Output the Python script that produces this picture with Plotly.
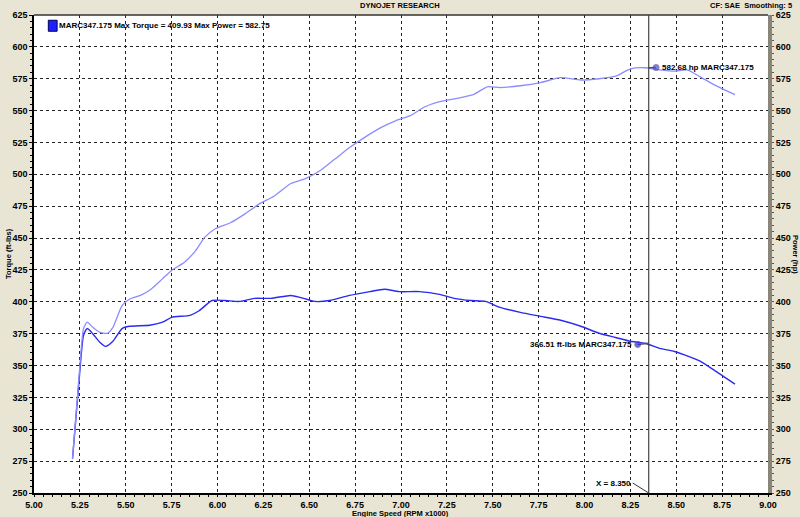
import plotly.graph_objects as go

# ---------------- data ----------------
torque_rpm = [5.21, 5.25, 5.27, 5.29, 5.32, 5.36, 5.39, 5.43, 5.48, 5.52, 5.63, 5.70, 5.75,
              5.85, 5.90, 5.97, 6.04, 6.12, 6.20, 6.29, 6.40, 6.45, 6.53, 6.61, 6.72, 6.83,
              6.91, 6.99, 7.10, 7.21, 7.29, 7.38, 7.46, 7.54, 7.65, 7.76, 7.87, 7.98, 8.08,
              8.17, 8.25, 8.33, 8.41, 8.49, 8.57, 8.63, 8.71, 8.82]
torque = [277, 346, 373.7, 379, 375, 368, 365, 369, 379, 380.8, 381.6, 384, 387.8,
          389.4, 393, 401, 401, 400.3, 402.7, 402.7, 405, 403.5, 400.3, 401, 405, 408,
          409.9, 408, 408, 405.8, 402.7, 401, 400.3, 395.6, 391.7, 388.6, 385.5, 380.8, 375.3,
          372, 369, 367.5, 363.5, 361, 357, 353.4, 346, 335.4]

power_rpm = [5.21, 5.25, 5.27, 5.29, 5.32, 5.36, 5.40, 5.43, 5.48, 5.52, 5.58, 5.63, 5.70,
             5.75, 5.82, 5.88, 5.93, 5.99, 6.07, 6.15, 6.23, 6.31, 6.40, 6.48, 6.56, 6.64,
             6.72, 6.80, 6.89, 6.97, 7.05, 7.13, 7.21, 7.32, 7.40, 7.47, 7.54, 7.65, 7.76,
             7.87, 7.98, 8.08, 8.17, 8.25, 8.33, 8.41, 8.49, 8.56, 8.63, 8.71, 8.82]
power = [277, 350, 379, 384, 380, 376, 375.3, 380, 397, 402, 405, 409, 418,
         424.6, 431, 440, 450.5, 457.5, 462, 469, 477, 483, 492.8, 496.7, 503, 512,
         521, 528.8, 536.6, 542, 546, 553, 557, 560, 563, 568.7, 568, 569.5, 572,
         575.8, 574, 575, 577, 582.8, 583.6, 582, 581, 582, 576.5, 570, 562.5]

cursor_rpm = 8.35
torque_marker_rpm = [8.35, 8.29]
torque_marker_val = [367.5, 366.5]
power_marker_rpm = [8.35, 8.39]
power_marker_val = [583.6, 583.8]
torque_label = "366.51 ft-lbs MARC347.175"
power_label = "582.68 hp MARC347.175"
legend_text = "MARC347.175 Max Torque = 409.93 Max Power = 582.75"
x_ticks = [5.00, 5.25, 5.50, 5.75, 6.00, 6.25, 6.50, 6.75, 7.00, 7.25, 7.50,
           7.75, 8.00, 8.25, 8.50, 8.75, 9.00]
y_ticks = list(range(250, 626, 25))

TORQUE_C = "#2a2af0"
POWER_C = "#8c8cff"
FONT = "Liberation Sans"

fig = go.Figure()

fig.add_trace(go.Scatter(x=power_rpm, y=power, mode="lines", yaxis="y2",
                         line=dict(color=POWER_C, width=1.3, shape="spline", smoothing=0.6),
                         showlegend=False, hoverinfo="skip"))
fig.add_trace(go.Scatter(x=torque_rpm, y=torque, mode="lines",
                         line=dict(color=TORQUE_C, width=1.4, shape="spline", smoothing=0.6),
                         showlegend=False, hoverinfo="skip"))

# cursor markers
fig.add_trace(go.Scatter(x=torque_marker_rpm, y=torque_marker_val, mode="lines+markers",
                         line=dict(color="#555555", width=1.5),
                         marker=dict(size=[0, 6], color=TORQUE_C),
                         showlegend=False, hoverinfo="skip"))
fig.add_trace(go.Scatter(x=power_marker_rpm, y=power_marker_val, mode="lines+markers", yaxis="y2",
                         line=dict(color="#555555", width=1.5),
                         marker=dict(size=[0, 6], color="#4a4aff"),
                         showlegend=False, hoverinfo="skip"))

tickfont = dict(family=FONT, size=9, color="black", weight="bold")

grid = dict(showgrid=True, gridcolor="#222222", griddash="dot", gridwidth=1)

fig.update_layout(
    width=800, height=517,
    margin=dict(l=34, r=32, t=15, b=24),
    paper_bgcolor="#e9e5d4",
    plot_bgcolor="white",
    xaxis=dict(range=[5, 9], tickvals=x_ticks, ticktext=[f"{v:.2f}" for v in x_ticks],
               tickfont=tickfont, ticks="outside", ticklen=2, tickcolor="black",
               showline=True, linecolor="black", linewidth=2, zeroline=False,
               automargin=False,
               minor=dict(dtick=0.05, ticks="outside", ticklen=2, tickcolor="black"),
               **grid),
    yaxis=dict(range=[250, 625], tickvals=y_ticks, tickfont=tickfont, ticks="outside",
               ticklen=3, tickcolor="black", showline=True, linecolor="black", linewidth=1.5,
               zeroline=False, automargin=False,
               minor=dict(dtick=5, ticks="outside", ticklen=2, tickcolor="black"),
               **grid),
    yaxis2=dict(range=[250, 625], tickvals=y_ticks, tickfont=tickfont, overlaying="y",
                side="right", ticks="outside", ticklen=2, tickcolor="#5a564c",
                showline=True, linecolor="#8a8579", linewidth=4, showgrid=False,
                zeroline=False, automargin=False,
                minor=dict(dtick=5, ticks="outside", ticklen=2, tickcolor="#5a564c")),
    showlegend=False,
)

# top border of plot
fig.add_shape(type="line", xref="paper", yref="paper", x0=0, x1=1, y0=1, y1=1,
              line=dict(color="#333333", width=1.5))

# cursor line
fig.add_shape(type="line", xref="x", yref="paper", x0=cursor_rpm, x1=cursor_rpm, y0=0, y1=1,
              line=dict(color="#444444", width=1.2))

# legend box
fig.add_shape(type="rect", xref="paper", yref="paper", x0=0.0195, x1=0.0315, y0=0.966, y1=0.989,
              fillcolor="#2020ff", line=dict(color="#000060", width=1))

small = dict(family=FONT, size=8, color="black", weight="bold")
tiny = dict(family=FONT, size=7.5, color="black", weight="bold")
annots = [
    dict(text=legend_text, xref="paper", yref="paper", x=0.032, y=0.978, xanchor="left",
         yanchor="middle", showarrow=False, font=small),
    dict(text="DYNOJET RESEARCH", xref="paper", yref="paper", x=(400 - 34) / 734, y=1.0,
         yshift=10, xanchor="center", yanchor="middle", showarrow=False, font=tiny),
    dict(text="CF: SAE&nbsp;&nbsp;Smoothing: 5", xref="paper", yref="paper", x=(794 - 34) / 734, y=1.0,
         yshift=10, xanchor="right", yanchor="middle", showarrow=False, font=tiny),
    dict(text="Engine Speed (RPM x1000)", xref="paper", yref="paper", x=(400 - 34) / 734, y=0,
         yshift=-20.5, xanchor="center", yanchor="middle", showarrow=False, font=tiny),
    dict(text="Torque (ft-lbs)", xref="paper", yref="paper", x=0, xshift=-26, y=0.5,
         textangle=-90, xanchor="center", yanchor="middle", showarrow=False, font=tiny),
    dict(text="Power (hp)", xref="paper", yref="paper", x=1, xshift=28, y=0.5,
         textangle=90, xanchor="center", yanchor="middle", showarrow=False, font=tiny),
    dict(text=power_label, x=power_marker_rpm[1], y=power_marker_val[1], yref="y2",
         xanchor="left", yanchor="middle", xshift=4, showarrow=False, font=small),
    dict(text=torque_label, x=torque_marker_rpm[1], y=torque_marker_val[1],
         xanchor="right", yanchor="middle", xshift=-4, showarrow=False, font=small),
    dict(text="X = 8.350", x=cursor_rpm, y=250, ax=-16, ay=-10, xanchor="right",
         yanchor="middle", showarrow=True, arrowhead=0, arrowwidth=1, arrowcolor="#333333",
         font=small),
]
for a in annots:
    fig.add_annotation(**a)

fig.write_html("out.html", config={"displayModeBar": False},
               post_script="document.body.style.margin='0px';document.body.style.background='#e9e5d4';")
